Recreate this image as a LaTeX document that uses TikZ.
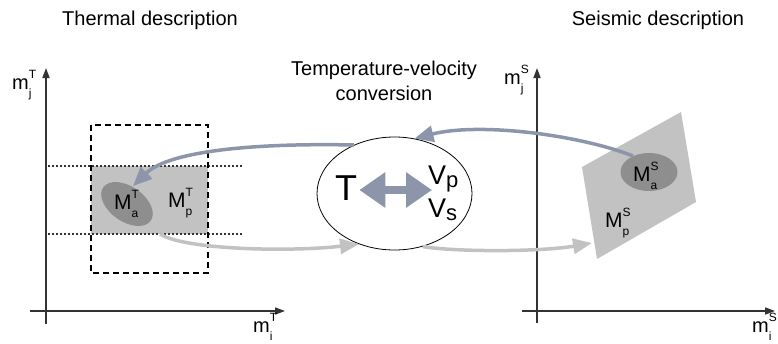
\documentclass[tikz,border=0pt]{standalone}
\usepackage{fontspec}
\setmainfont{Liberation Sans}
\usetikzlibrary{arrows.meta,shapes.geometric}
\definecolor{bluegrey}{HTML}{8C95AA}
\definecolor{lightgrey}{HTML}{C2C2C2}
\definecolor{midgrey}{HTML}{8E8E8E}
\definecolor{axisgrey}{HTML}{333333}
\newcommand{\fs}[1]{\fontsize{#1}{#1}\selectfont}
\newcommand{\msym}[3]{#1\rlap{\raisebox{0.52em}{\fs{12}#2}}\raisebox{-0.42em}{\fs{12}#3}}

\begin{document}
\begin{tikzpicture}[x=1pt,y=-1pt,
    axis/.style={draw=axisgrey,line width=1.6pt,-{Triangle[length=10pt,width=7pt]}},
    mapback/.style={draw=bluegrey,line width=3.5pt,-{Triangle[length=19pt,width=16pt]}},
    mapfwd/.style={draw=lightgrey,line width=3.5pt,-{Triangle[length=19pt,width=15pt]}},
    lbl/.style={font=\fs{21},inner sep=0pt,anchor=base west},
    axlbl/.style={font=\fs{20},inner sep=0pt,anchor=base west},
    title/.style={font=\fontsize{20}{25}\selectfont,inner sep=0pt,align=center}]
  \useasboundingbox (0,0) rectangle (778,343);

  \node[title] (thermal) at (150,20) {Thermal description};
  \node[title] (seismic) at (658,20) {Seismic description};
  \node[title] (convtitle) at (384,81) {Temperature-velocity\\conversion};

  % thermal axes
  \draw[axis] (46,324) -- (46,68);
  \draw[axis] (30,311) -- (285,311);
  \node[axlbl] (mjT) at (12,89) {\msym{m}{T}{j}};
  \node[axlbl] (miT) at (253,332) {\msym{m}{T}{i}};

  \node[fill=lightgrey,minimum width=117,minimum height=68,inner sep=0pt] (mpT) at (149.5,200) {};
  \draw[axisgrey,line width=1.3pt,dash pattern=on 1.5pt off 2.5pt] (48,166) -- (242,166);
  \draw[axisgrey,line width=1.3pt,dash pattern=on 1.5pt off 2.5pt] (48,234) -- (242,234);
  \draw[black,line width=1.3pt,dash pattern=on 6pt off 4pt] (91,125) rectangle (208,273);
  \node[ellipse,fill=midgrey,minimum width=58,minimum height=35,rotate=-35,inner sep=0pt] (maT) at (127,204) {};
  \node[lbl] (maTlbl) at (114,209) {\msym{M}{T}{a}};
  \node[lbl] (mpTlbl) at (168,207) {\msym{M}{T}{p}};
  \coordinate (tipT) at (133,186);

  % conversion
  \node[ellipse,draw,line width=0.8pt,minimum width=155,minimum height=113,inner sep=0pt] (conv) at (394.5,193.5) {};
  \node[font=\fs{36},inner sep=0pt,anchor=base west] (tT) at (335,200) {T};
  \node[font=\fs{27},inner sep=0pt,anchor=base west] (vP) at (428,184) {V\raisebox{-0.14em}{\fs{22}p}};
  \node[font=\fs{27},inner sep=0pt,anchor=base west] (vS) at (428,217) {V\raisebox{-0.14em}{\fs{22}s}};
  \draw[bluegrey,line width=8pt,{Triangle[length=26pt,width=34pt]}-{Triangle[length=26pt,width=34pt]}]
    ([xshift=2pt]tT.east |- 0,190) -- ([xshift=4pt]vP.west |- 0,190);

  % seismic axes
  \draw[axis] (537,323) -- (537,68);
  \draw[axis] (522,311) -- (775,311);
  \node[axlbl] (mjS) at (504,84) {\msym{m}{S}{j}};
  \node[axlbl] (miS) at (752,332) {\msym{m}{S}{i}};

  \fill[lightgrey] (582,167) -- (681,112) -- (696,202) -- (597,259) -- cycle;
  \coordinate (pS) at (592,243);
  \node[ellipse,fill=midgrey,minimum width=57,minimum height=38,inner sep=0pt] (maS) at (649,172) {};
  \node[lbl] (maSlbl) at (633,181) {\msym{M}{S}{a}};
  \node[lbl] (mpSlbl) at (605,227) {\msym{M}{S}{p}};

  % mappings
  \draw[mapback] (maS.135) .. controls (580,135) and (480,122) .. (conv.70);
  \draw[mapback] (conv.130) .. controls (260,143) and (170,150) .. (tipT);
  \draw[mapfwd] (160,234) .. controls (185,250) and (290,252) .. (conv.235);
  \draw[mapfwd] (conv.-62) .. controls (455,252) and (540,252) .. (pS);
\end{tikzpicture}
\end{document}
